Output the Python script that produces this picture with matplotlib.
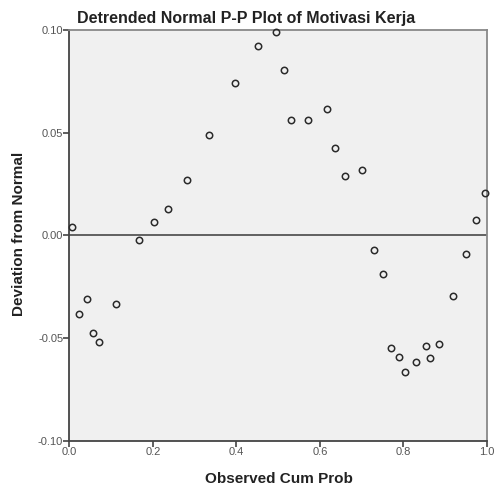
import matplotlib
matplotlib.use("Agg")
import matplotlib.pyplot as plt
from matplotlib.ticker import FormatStrFormatter

plt.rcParams['font.family'] = ['Liberation Sans', 'DejaVu Sans']

# observed cumulative probability and deviation from normal
obs_cum_prob = [0.007, 0.022, 0.041, 0.057, 0.071, 0.111, 0.167, 0.202, 0.237, 0.281,
                0.335, 0.396, 0.451, 0.495, 0.515, 0.531, 0.571, 0.616, 0.636, 0.660,
                0.701, 0.730, 0.750, 0.770, 0.790, 0.804, 0.830, 0.855, 0.864, 0.885,
                0.919, 0.950, 0.974, 0.995]
deviation = [0.0043, -0.0380, -0.0307, -0.0476, -0.0517, -0.0332, -0.0022, 0.0066, 0.0129, 0.0270,
             0.0490, 0.0740, 0.0924, 0.0990, 0.0805, 0.0562, 0.0562, 0.0614, 0.0424, 0.0290,
             0.0320, -0.0069, -0.0186, -0.0549, -0.0593, -0.0666, -0.0614, -0.0540, -0.0595, -0.0528,
             -0.0293, -0.0090, 0.0077, 0.0208]

x_ticks = [0.0, 0.2, 0.4, 0.6, 0.8, 1.0]
y_ticks = [-0.10, -0.05, 0.00, 0.05, 0.10]

fig = plt.figure(figsize=(5.02, 4.91), dpi=100)
ax = fig.add_axes([0.1384, 0.1018, 0.8316, 0.8372])
ax.set_facecolor('#f0f0f0')

ax.axhline(0, color='#555555', lw=1.3, zorder=1)
ax.plot(obs_cum_prob, deviation, 'o', ms=4.6, mfc='none', mec='#2a2a2a', mew=1.1,
        clip_on=False, zorder=3)

ax.set_xlim(0, 1)
ax.set_ylim(-0.10, 0.10)
ax.set_xticks(x_ticks)
ax.set_yticks(y_ticks)
ax.xaxis.set_major_formatter(FormatStrFormatter('%.1f'))
ax.yaxis.set_major_formatter(FormatStrFormatter('%.2f'))
ax.tick_params(direction='out', length=4, width=1.2, color='#444444',
               labelsize=8, labelcolor='#555555', pad=0.5)

for side in ['left', 'bottom']:
    ax.spines[side].set_color('#444444')
    ax.spines[side].set_linewidth(1.3)
for side in ['top', 'right']:
    ax.spines[side].set_color('#888888')
    ax.spines[side].set_linewidth(1.3)

fig.text(246 / 502, 1 - 18 / 491, "Detrended Normal P-P Plot of Motivasi Kerja",
         ha='center', va='center', fontsize=11.5, fontweight='bold', color='#222222')
fig.text(279 / 502, 1 - 479 / 491, "Observed Cum Prob",
         ha='center', va='center', fontsize=11, fontweight='bold', color='#222222')
fig.text(19 / 502, 1 - 234 / 491, "Deviation from Normal", rotation=90,
         ha='center', va='center', fontsize=11, fontweight='bold', color='#222222')

fig.savefig("out.png", dpi=100, facecolor='white')
